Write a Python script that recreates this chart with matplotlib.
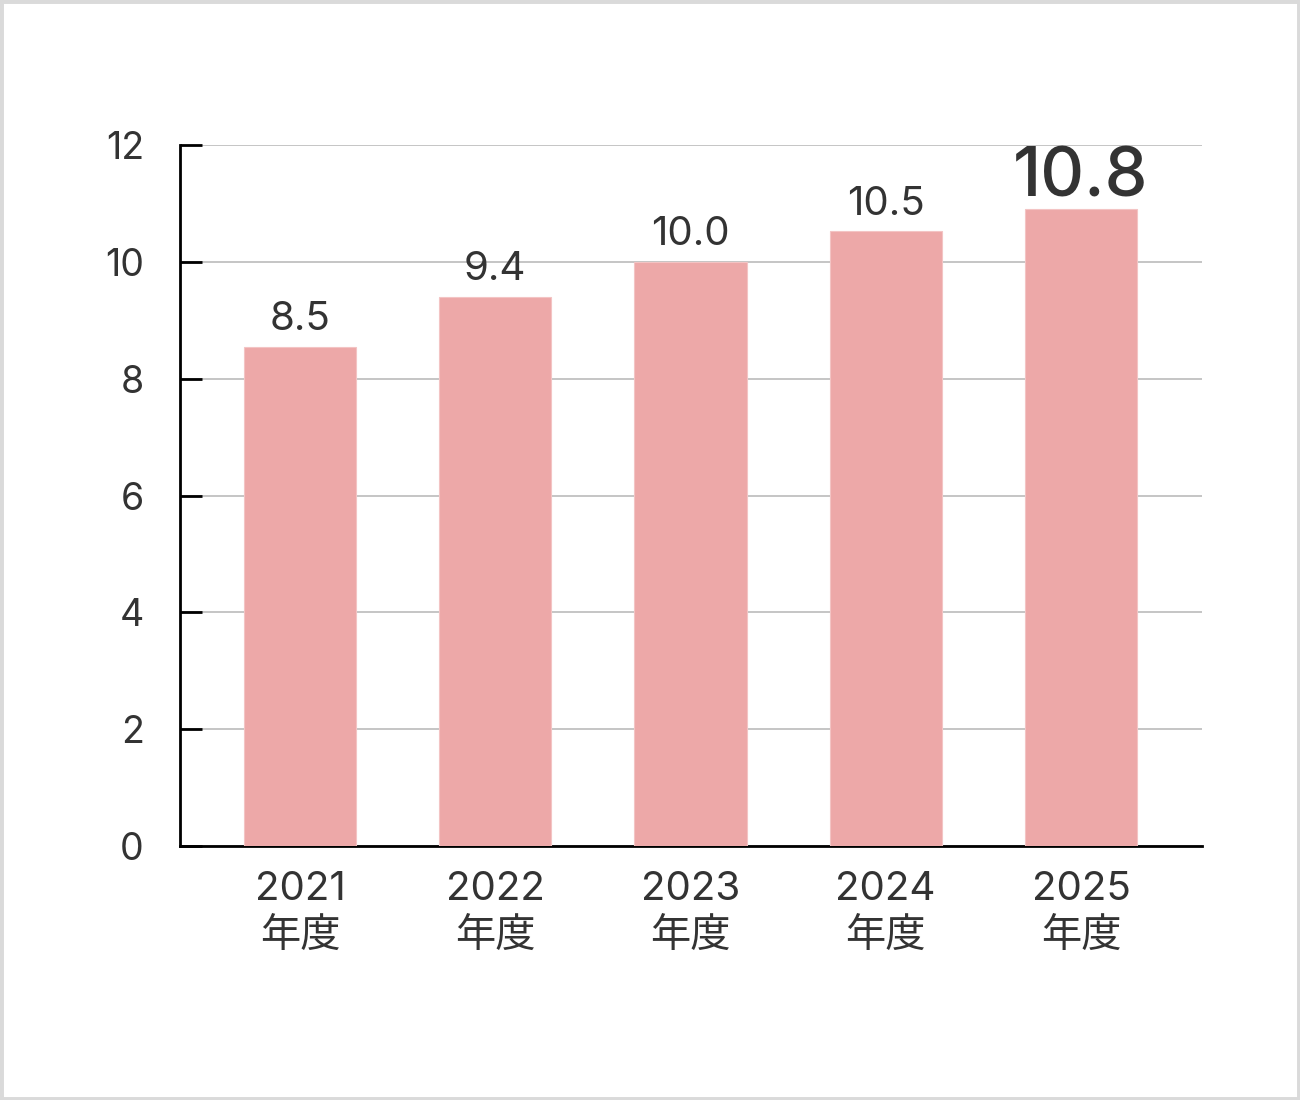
import matplotlib
matplotlib.use("Agg")
import matplotlib.pyplot as plt
from matplotlib.patches import Rectangle

plt.rcParams['font.family'] = ['Inter', 'Noto Sans CJK JP', 'DejaVu Sans']

categories = ["2021\n年度", "2022\n年度", "2023\n年度", "2024\n年度", "2025\n年度"]
values = [8.55, 9.4, 10.0, 10.52, 10.9]
value_labels = ["8.5", "9.4", "10.0", "10.5", "10.8"]
yticks = [0, 2, 4, 6, 8, 10, 12]

text_color = "#333333"
bar_color = "#EDA8A8"

fig = plt.figure(figsize=(13, 11), dpi=100)
fig.patches.append(Rectangle((0, 0), 1, 1, transform=fig.transFigure, fill=False,
                             edgecolor="#dadada", linewidth=5, zorder=10))
ax = fig.add_axes([180/1300, 1-846/1100, (1202-180)/1300, (846-145)/1100])

x = list(range(len(categories)))
bars = ax.bar(x, values, width=0.574, color=bar_color, edgecolor="#f3c4c4", linewidth=0.8, zorder=3)

ax.set_ylim(0, 12)
ax.set_xlim(-0.615, 4.62)
ax.set_yticks(yticks)
ax.set_yticklabels([str(t) for t in yticks], fontsize=27, color=text_color)
ax.tick_params(axis='y', direction='in', length=16, width=2, color='black', pad=26)
ax.set_xticks(x)
ax.set_xticklabels(categories, fontsize=29, color=text_color, linespacing=1.35)
ax.tick_params(axis='x', length=0, pad=18)

ax.grid(axis='y', color='#bbbbbb', linewidth=1.2, zorder=0)
ax.set_axisbelow(True)
for s in ['top', 'right']:
    ax.spines[s].set_visible(False)
ax.spines['left'].set_linewidth(2)
ax.spines['bottom'].set_linewidth(2)

for i, (v, lab) in enumerate(zip(values, value_labels)):
    big = (i == len(values) - 1)
    ax.text(i, v + (-0.02 if big else 0.15), lab, ha='center', va='bottom',
            fontsize=49 if big else 29, color=text_color,
            fontweight='medium' if big else 'normal', zorder=4)

fig.savefig("out.png", dpi=100)
